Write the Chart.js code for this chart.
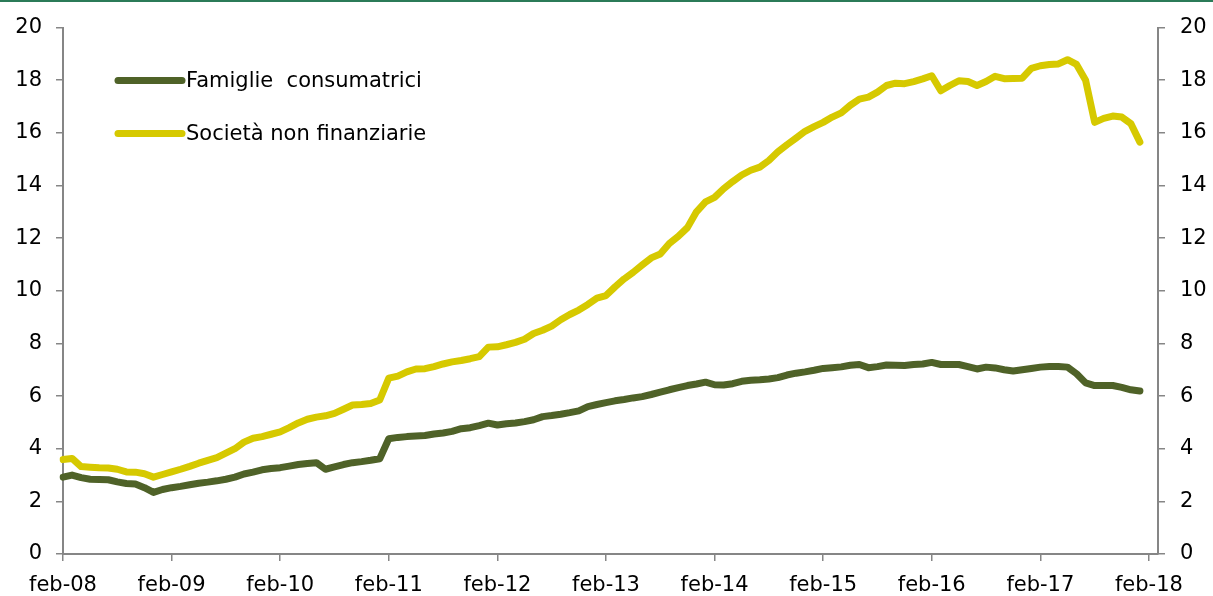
<!DOCTYPE html>
<html>
<head>
<meta charset="utf-8">
<script src="https://cdn.jsdelivr.net/npm/chart.js@4.4.1/dist/chart.umd.min.js"></script>
<style>
  body { margin: 0; background: #fff; }
  #wrap { position: relative; width: 1213px; height: 596px; }
  #topline { position: absolute; left: 0; top: 0; width: 1213px; height: 2px; background: #2b7b58; }
  canvas { position: absolute; left: 0; top: 0; }
</style>
</head>
<body>
<div id="wrap">
  <canvas id="creditChart" width="1213" height="596"></canvas>
  <div id="topline"></div>
</div>
<script>
// months feb-08 .. mar-18 (axis runs one month past the last tick)
var monthNames = ["gen", "feb", "mar", "apr", "mag", "giu", "lug", "ago", "set", "ott", "nov", "dic"];
var labels = [];
for (var k = 0; k < 122; k++) {
    var m = (1 + k) % 12;
    var yy = 8 + Math.floor((1 + k) / 12);
    labels.push(monthNames[m] + "-" + (yy < 10 ? "0" + yy : yy));
}

// Famiglie consumatrici, feb-08 .. gen-18
var famiglie = [
    2.92, 3.00, 2.90, 2.84, 2.83, 2.82, 2.74, 2.68, 2.66, 2.52, 2.34, 2.45,
    2.52, 2.57, 2.63, 2.69, 2.73, 2.78, 2.84, 2.92, 3.04, 3.11, 3.20, 3.25,
    3.28, 3.34, 3.40, 3.44, 3.47, 3.22, 3.31, 3.40, 3.47, 3.51, 3.56, 3.62,
    4.38, 4.43, 4.46, 4.48, 4.50, 4.56, 4.60, 4.66, 4.76, 4.80, 4.88, 4.97,
    4.90, 4.95, 4.98, 5.03, 5.10, 5.22, 5.26, 5.31, 5.37, 5.44, 5.60, 5.68,
    5.75, 5.82, 5.87, 5.93, 5.98, 6.06, 6.15, 6.24, 6.32, 6.40, 6.46, 6.53,
    6.43, 6.42, 6.47, 6.56, 6.60, 6.62, 6.65, 6.70, 6.80, 6.87, 6.92, 6.98,
    7.05, 7.08, 7.11, 7.17, 7.20, 7.08, 7.12, 7.18, 7.17, 7.16, 7.20, 7.22,
    7.28, 7.20, 7.20, 7.20, 7.12, 7.03, 7.10, 7.07, 7.00, 6.95, 7.00, 7.05,
    7.10, 7.12, 7.12, 7.10, 6.85, 6.50, 6.40, 6.40, 6.40, 6.33, 6.24, 6.19
];

// Società non finanziarie, feb-08 .. gen-18
var societa = [
    3.59, 3.63, 3.32, 3.30, 3.28, 3.27, 3.22, 3.12, 3.11, 3.05, 2.92, 3.02,
    3.12, 3.22, 3.33, 3.45, 3.56, 3.66, 3.83, 4.00, 4.25, 4.40, 4.46, 4.55,
    4.64, 4.80, 4.98, 5.12, 5.20, 5.25, 5.34, 5.50, 5.66, 5.68, 5.72, 5.85,
    6.68, 6.76, 6.92, 7.03, 7.04, 7.12, 7.22, 7.30, 7.35, 7.42, 7.50, 7.86,
    7.87, 7.95, 8.04, 8.16, 8.38, 8.50, 8.66, 8.90, 9.10, 9.27, 9.48, 9.72,
    9.82, 10.15, 10.45, 10.70, 10.98, 11.25, 11.40, 11.80, 12.07, 12.40, 13.00, 13.38,
    13.55, 13.88, 14.15, 14.40, 14.58, 14.70, 14.95, 15.28, 15.55, 15.80, 16.06, 16.24,
    16.40, 16.60, 16.76, 17.05, 17.28, 17.36, 17.55, 17.80, 17.89, 17.87, 17.95, 18.05,
    18.17, 17.60, 17.80, 17.98, 17.95, 17.80, 17.95, 18.15, 18.06, 18.07, 18.08, 18.45,
    18.55, 18.60, 18.62, 18.78, 18.60, 18.00, 16.40, 16.55, 16.64, 16.60, 16.35, 15.65
];

var axisGrey = '#868686';
var fontFamily = '"DejaVu Sans", Verdana, sans-serif';

// legend drawn inside the plot, top-left
var innerLegend = {
    id: 'innerLegend',
    afterDraw: function(chart) {
        var ctx = chart.ctx;
        var area = chart.chartArea;
        ctx.save();
        chart.data.datasets.forEach(function(ds, i) {
            var y = area.top + 53 + i * 53;
            var x0 = area.left + 55;
            ctx.beginPath();
            ctx.lineCap = 'round';
            ctx.lineWidth = 7;
            ctx.strokeStyle = ds.borderColor;
            ctx.moveTo(x0, y);
            ctx.lineTo(x0 + 64, y);
            ctx.stroke();
            ctx.fillStyle = '#000';
            ctx.font = '21px ' + fontFamily;
            ctx.textBaseline = 'middle';
            ctx.fillText(ds.label, x0 + 68, y + 1);
        });
        ctx.restore();
    }
};

Chart.defaults.font.family = fontFamily;
Chart.defaults.font.size = 21;
Chart.defaults.color = '#000';

var creditChart = new Chart(document.getElementById('creditChart').getContext('2d'), {
    type: 'line',
    data: {
        labels: labels,
        datasets: [
            {
                label: 'Famiglie  consumatrici',
                data: famiglie,
                borderColor: '#4f6228',
                borderWidth: 7,
                pointRadius: 0,
                tension: 0,
                borderCapStyle: 'round',
                borderJoinStyle: 'round',
                fill: false
            },
            {
                label: 'Società non finanziarie',
                data: societa,
                borderColor: '#d6c900',
                borderWidth: 7,
                pointRadius: 0,
                tension: 0,
                borderCapStyle: 'round',
                borderJoinStyle: 'round',
                fill: false
            }
        ]
    },
    plugins: [innerLegend],
    options: {
        responsive: false,
        animation: false,
        layout: { padding: { top: 26, left: 0, right: 0, bottom: 0 } },
        plugins: {
            legend: { display: false },
            tooltip: { enabled: false }
        },
        scales: {
            x: {
                type: 'category',
                offset: false,
                grid: { drawOnChartArea: false, tickLength: 7, color: axisGrey, lineWidth: 1.5 },
                border: { color: axisGrey, width: 2 },
                ticks: {
                    autoSkip: false,
                    maxRotation: 0,
                    padding: 12,
                    callback: function(val, index) {
                        return index % 12 === 0 ? this.getLabelForValue(val) : null;
                    }
                },
                afterFit: function(scale) { scale.height = 42; }
            },
            y: {
                position: 'left',
                min: 0,
                max: 20,
                grid: { drawOnChartArea: false, tickLength: 7, color: axisGrey, lineWidth: 1.5 },
                border: { color: axisGrey, width: 2 },
                ticks: { stepSize: 2, padding: 14 },
                afterFit: function(scale) { scale.width = 63; }
            },
            y2: {
                position: 'right',
                display: true,
                min: 0,
                max: 20,
                grid: { drawOnChartArea: false, tickLength: 7, color: axisGrey, lineWidth: 1.5 },
                border: { color: axisGrey, width: 2 },
                ticks: { stepSize: 2, padding: 15 },
                afterFit: function(scale) { scale.width = 55; }
            }
        }
    }
});
</script>
</body>
</html>
